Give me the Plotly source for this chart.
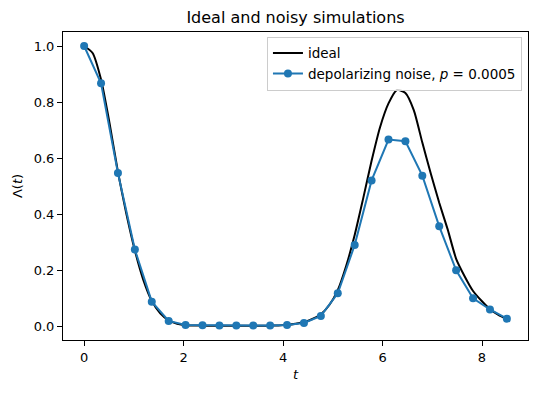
import plotly.graph_objects as go

# Noisy simulation samples
t_noisy = [0.0, 0.34, 0.68, 1.02, 1.36, 1.70, 2.04, 2.38, 2.72, 3.06, 3.40, 3.74, 4.08,
           4.42, 4.76, 5.10, 5.44, 5.78, 6.12, 6.46, 6.80, 7.14, 7.48, 7.82, 8.16, 8.50]
lam_noisy = [1.0, 0.867, 0.546, 0.273, 0.087, 0.018, 0.004, 0.003, 0.002, 0.002, 0.002, 0.002, 0.004,
             0.011, 0.036, 0.117, 0.289, 0.520, 0.666, 0.660, 0.537, 0.356, 0.199, 0.099, 0.059, 0.026]

# Ideal curve (on a fine grid)
t_ideal = [0.00, 0.17, 0.34, 0.51, 0.68, 0.85, 1.02, 1.19, 1.36, 1.53, 1.70, 1.87, 2.04, 2.21,
           2.38, 2.55, 2.72, 2.89, 3.06, 3.23, 3.40, 3.57, 3.74, 3.91, 4.08, 4.25, 4.42, 4.59,
           4.76, 4.93, 5.10, 5.27, 5.44, 5.61, 5.78, 5.95, 6.12, 6.29, 6.46, 6.63, 6.80, 6.97,
           7.14, 7.31, 7.48, 7.65, 7.82, 7.99, 8.16, 8.33, 8.50]
lam_ideal = [1.0, 0.975, 0.88, 0.725, 0.55, 0.40, 0.27, 0.165, 0.09, 0.045, 0.02, 0.008, 0.003, 0.002,
             0.001, 0.001, 0.001, 0.001, 0.001, 0.001, 0.001, 0.001, 0.001, 0.002, 0.004, 0.008, 0.014, 0.025,
             0.042, 0.075, 0.128, 0.215, 0.325, 0.455, 0.59, 0.71, 0.795, 0.843, 0.832, 0.77, 0.655, 0.545,
             0.44, 0.345, 0.24, 0.178, 0.125, 0.09, 0.06, 0.04, 0.025]

x_ticks = [0, 2, 4, 6, 8]
y_ticks = [0.0, 0.2, 0.4, 0.6, 0.8, 1.0]

FONT = "DejaVu Sans"

fig = go.Figure()
fig.add_trace(go.Scatter(x=t_ideal, y=lam_ideal, mode="lines", name="ideal",
                         line=dict(color="black", width=2, shape="spline", smoothing=0.6)))
fig.add_trace(go.Scatter(x=t_noisy, y=lam_noisy, mode="lines+markers",
                         name="depolarizing noise, <i>p</i> = 0.0005",
                         line=dict(color="#1f77b4", width=2),
                         marker=dict(color="#1f77b4", size=8)))

axis_common = dict(showline=True, linecolor="black", linewidth=1, mirror=True,
                   ticks="outside", ticklen=5, tickwidth=1, tickcolor="black",
                   showgrid=False, zeroline=False,
                   tickfont=dict(family=FONT, size=13, color="black"))

fig.update_layout(
    width=538, height=393,
    margin=dict(l=63, r=10, t=32, b=53),
    paper_bgcolor="white", plot_bgcolor="white",
    font=dict(family=FONT, size=13, color="black"),
    title=dict(text="Ideal and noisy simulations", x=0.5, xref="paper", xanchor="center",
               y=0.955, yref="container", yanchor="middle",
               font=dict(family=FONT, size=16, color="black")),
    xaxis=dict(range=[-0.425, 8.925], tickvals=x_ticks, ticktext=[str(v) for v in x_ticks],
               title=dict(text="<i>t</i>", standoff=6, font=dict(family=FONT, size=13)),
               **axis_common),
    yaxis=dict(range=[-0.05, 1.05], tickvals=y_ticks, ticktext=[f"{v:.1f}" for v in y_ticks],
               title=dict(text="Λ(<i>t</i>)", standoff=8, font=dict(family=FONT, size=13)),
               **axis_common),
    legend=dict(x=0.987, y=0.985, xanchor="right", yanchor="top",
                bgcolor="rgba(255,255,255,0.8)", bordercolor="#cccccc", borderwidth=1,
                font=dict(family=FONT, size=13.5, color="black"),
                tracegroupgap=2),
    showlegend=True,
)

fig.write_html("out.html")
